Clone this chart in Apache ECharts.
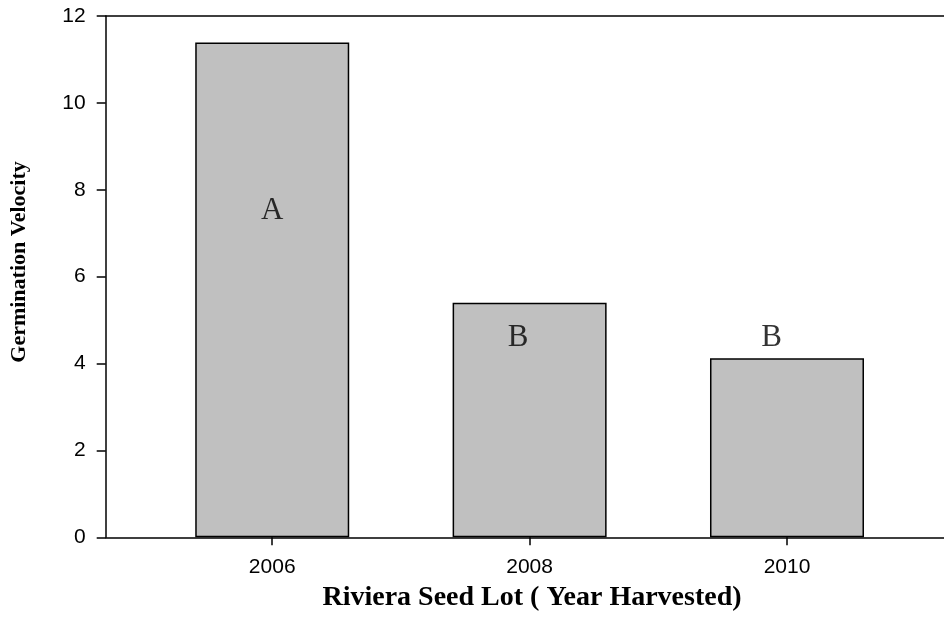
<!DOCTYPE html>
<html><head><meta charset="utf-8">
<script src="https://cdn.jsdelivr.net/npm/echarts@6/dist/echarts.min.js"></script>
<style>html,body{margin:0;padding:0;background:#fff}#c{width:944px;height:626px}</style>
</head><body><div id="c"></div>
<script>
var years = [2006, 2008, 2010];
var velocity = [11.39, 5.40, 4.12];
var letters = ['A', 'B', 'B'];
var letterX = [2006, 2007.91, 2009.88];
var letterY = [7.51, 4.59, 4.59];

var chart = echarts.init(document.getElementById('c'), null, {renderer: 'canvas'});
chart.setOption({
  animation: false,
  backgroundColor: '#fff',
  grid: {left: 105.7, right: 0, top: 16, bottom: 88.7},
  xAxis: [{
    type: 'value', min: 2004.706, max: 2011.22,
    splitLine: {show: false},
    axisLine: {lineStyle: {color: '#000', width: 1.5}},
    axisTick: {show: true, length: 8, customValues: years, lineStyle: {color: '#000', width: 1.5}},
    axisLabel: {customValues: years, formatter: function (v) { return String(Math.round(v)); }, color: '#000', fontFamily: 'Liberation Sans', fontSize: 21, margin: 19}
  }, {
    type: 'value', position: 'top', min: 2004.706, max: 2011.22,
    splitLine: {show: false},
    axisLine: {show: true, lineStyle: {color: '#000', width: 1.5}},
    axisTick: {show: false}, axisLabel: {show: false}
  }],
  yAxis: {
    type: 'value', min: 0, max: 12, interval: 2,
    splitLine: {show: false},
    axisLine: {show: true, lineStyle: {color: '#000', width: 1.5}},
    axisTick: {show: true, length: 9, lineStyle: {color: '#000', width: 1.5}},
    axisLabel: {color: '#000', fontFamily: 'Liberation Sans', fontSize: 21, margin: 20}
  },
  graphic: [
    {type: 'text', x: 532, y: 598, style: {text: 'Riviera Seed Lot ( Year Harvested)', font: 'bold 28px "Liberation Serif"', fill: '#000', align: 'center', verticalAlign: 'middle'}},
    {type: 'text', x: 19, y: 262, rotation: Math.PI / 2, style: {text: 'Germination Velocity', font: 'bold 22px "Liberation Serif"', fill: '#000', align: 'center', verticalAlign: 'middle'}}
  ],
  series: [
    {
      type: 'bar', barWidth: 154,
      data: years.map(function (y, i) { return [y, velocity[i]]; }),
      itemStyle: {color: '#c0c0c0', borderColor: '#000', borderWidth: 1.5}
    },
    {
      type: 'scatter', symbolSize: 0, silent: true,
      data: letterX.map(function (x, i) { return {value: [x, letterY[i]], name: letters[i]}; }),
      label: {show: true, position: 'inside', formatter: '{b}', color: '#000', textBorderWidth: 0, fontFamily: 'Liberation Serif', fontSize: 31}
    }
  ]
});
</script></body></html>
